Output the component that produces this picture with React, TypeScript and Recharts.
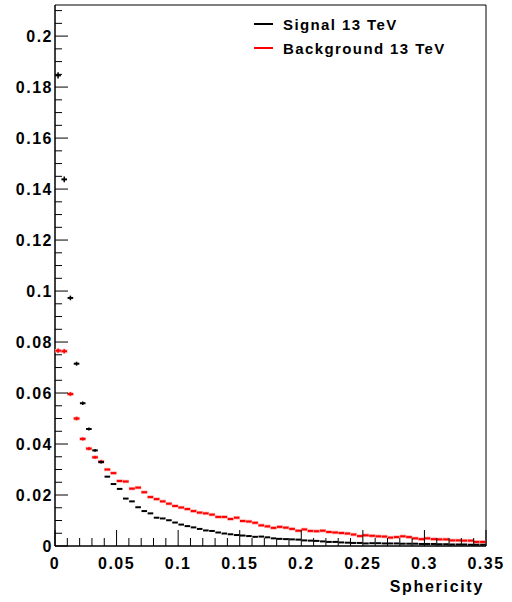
import React from "react";
import { ScatterChart, Scatter, XAxis, YAxis, ReferenceArea } from "recharts";

// bin width of the sphericity histogram (70 bins from 0 to 0.35)
const binWidth = 0.005;

const signal = [
  0.1846, 0.1438, 0.0973, 0.0715, 0.056, 0.0459, 0.0375, 0.0329, 0.0272, 0.0243,
  0.0224, 0.0186, 0.0175, 0.0152, 0.0137, 0.0128, 0.0111, 0.0108, 0.0101, 0.0092,
  0.0084, 0.0078, 0.0073, 0.0067, 0.0061, 0.0059, 0.0053, 0.0049, 0.0046, 0.0043,
  0.0041, 0.0039, 0.0036, 0.0037, 0.0034, 0.003, 0.0028, 0.0027, 0.0026, 0.0025,
  0.0022, 0.0021, 0.002, 0.0018, 0.0016, 0.0016, 0.0014, 0.0013, 0.0012, 0.0012,
  0.001, 0.0011, 0.0011, 0.001, 0.001, 0.001, 0.0009, 0.0009, 0.0009, 0.0008,
  0.0008, 0.0008, 0.0007, 0.0007, 0.0006, 0.0006, 0.0006, 0.0005, 0.0005, 0.0005,
];

const background = [
  0.0766, 0.0764, 0.0596, 0.05, 0.042, 0.0382, 0.0348, 0.0331, 0.03, 0.0286,
  0.0255, 0.0253, 0.0225, 0.0229, 0.0211, 0.0192, 0.0184, 0.0175, 0.0166, 0.0157,
  0.0151, 0.0145, 0.0137, 0.0131, 0.0128, 0.0123, 0.0114, 0.0114, 0.0106, 0.0111,
  0.0098, 0.0096, 0.0091, 0.0081, 0.0077, 0.0071, 0.0075, 0.0072, 0.0067, 0.006,
  0.0065, 0.0059, 0.0058, 0.006, 0.0055, 0.0053, 0.0051, 0.0049, 0.0045, 0.0039,
  0.0042, 0.004, 0.0038, 0.0037, 0.0033, 0.0035, 0.0038, 0.0035, 0.003, 0.0027,
  0.003, 0.0027, 0.0026, 0.0026, 0.0022, 0.0022, 0.0021, 0.0021, 0.0016, 0.0016,
];

const xMajor = [0, 0.05, 0.1, 0.15, 0.2, 0.25, 0.3, 0.35];
const yMajor = [0, 0.02, 0.04, 0.06, 0.08, 0.1, 0.12, 0.14, 0.16, 0.18, 0.2];
const xLabels = ["0", "0.05", "0.1", "0.15", "0.2", "0.25", "0.3", "0.35"];
const yLabels = ["0", "0.02", "0.04", "0.06", "0.08", "0.1", "0.12", "0.14", "0.16", "0.18", "0.2"];
const yMax = 0.2122;

const xTicks: number[] = [];
for (let i = 0; i <= 35; i++) xTicks.push(+(i * 0.01).toFixed(3));
const yTicks: number[] = [];
for (let i = 0; i <= 42; i++) yTicks.push(+(i * 0.005).toFixed(4));

const toPoints = (vals: number[]) => vals.map((v, i) => ({ x: (i + 0.5) * binWidth, y: v }));
const signalPts = toPoints(signal);
const backgroundPts = toPoints(background);

const FONT = "'Liberation Sans', Arial, sans-serif";

const XTick = (props: any) => {
  const { x, y, payload } = props;
  const idx = xMajor.findIndex((m) => Math.abs(m - payload.value) < 1e-6);
  const major = idx >= 0;
  return (
    <g>
      <line x1={x} x2={x} y1={y} y2={y - (major ? 16 : 8)} stroke="#000" strokeWidth={1} />
      {major && (
        <text x={x} y={y + 23} textAnchor="middle" fontFamily={FONT} fontWeight="bold" fontSize={16} letterSpacing={1.5} fill="#000">
          {xLabels[idx]}
        </text>
      )}
    </g>
  );
};

const YTick = (props: any) => {
  const { x, y, payload } = props;
  const idx = yMajor.findIndex((m) => Math.abs(m - payload.value) < 1e-6);
  const major = idx >= 0;
  return (
    <g>
      <line x1={x} x2={x + (major ? 13 : 7)} y1={y} y2={y} stroke="#000" strokeWidth={1} />
      {major && (
        <text x={x - 2} y={y + 6} textAnchor="end" fontFamily={FONT} fontWeight="bold" fontSize={16} letterSpacing={1.5} fill="#000">
          {yLabels[idx]}
        </text>
      )}
    </g>
  );
};

// horizontal bar = bin width, vertical bar = small stat. error (grows with the content)
const marker = (color: string, halo: string) => (props: any) => {
  const { cx, cy } = props;
  if (cx == null || cy == null) return <g />;
  // the x axis sits at y = 546, so the height above it is the bin content in pixels
  const h = Math.max(0, 546 - cy);
  const err = 3.2 * Math.sqrt(h / 470);
  return (
    <g>
      {halo && <line x1={cx - 3.2} x2={cx + 3.2} y1={cy} y2={cy} stroke={halo} strokeWidth={3.5} />}
      {halo && err > 1.3 && <line x1={cx} x2={cx} y1={cy - err - 0.5} y2={cy + err + 0.5} stroke={halo} strokeWidth={2.5} />}
      <line x1={cx - 2.8} x2={cx + 2.8} y1={cy} y2={cy} stroke={color} strokeWidth={2} />
      {err > 1.3 && <line x1={cx} x2={cx} y1={cy - err} y2={cy + err} stroke={color} strokeWidth={1.5} />}
    </g>
  );
};

export default function App() {
  return (
    <div style={{ position: "absolute", left: 0, top: 0, width: 512, height: 602, background: "#fff" }}>
      <ScatterChart width={512} height={602} margin={{ top: 5, right: 26, bottom: 0, left: 0 }}>
        <XAxis
          type="number"
          dataKey="x"
          domain={[0, 0.35]}
          ticks={xTicks}
          interval={0}
          height={56}
          tickSize={0}
          tickMargin={0}
          axisLine={{ stroke: "#000" }}
          tick={<XTick />}
          allowDataOverflow
        />
        <YAxis
          type="number"
          dataKey="y"
          domain={[0, yMax]}
          ticks={yTicks}
          interval={0}
          width={55}
          tickSize={0}
          tickMargin={0}
          axisLine={{ stroke: "#000" }}
          tick={<YTick />}
          allowDataOverflow
        />
        <ReferenceArea x1={0} x2={0.35} y1={0} y2={yMax} fill="none" stroke="#000" strokeWidth={1} ifOverflow="visible" />
        <Scatter name="Background 13 TeV" data={backgroundPts} shape={marker("#ff0000", "#ffb0b0")} isAnimationActive={false} />
        <Scatter name="Signal 13 TeV" data={signalPts} shape={marker("#000000", "")} isAnimationActive={false} />
        <text x={484} y={592} textAnchor="end" fontFamily={FONT} fontWeight="bold" fontSize={16} letterSpacing={1.7} fill="#000">
          Sphericity
        </text>
      </ScatterChart>
      <div style={{ position: "absolute", left: 254, top: 12, fontFamily: FONT, fontWeight: "bold", fontSize: 15, letterSpacing: 1.4, color: "#000" }}>
        {[
          { label: "Signal 13 TeV", color: "#000" },
          { label: "Background 13 TeV", color: "#ff0000" },
        ].map((item) => (
          <div key={item.label} style={{ display: "flex", alignItems: "center", height: 24 }}>
            <span style={{ display: "inline-block", width: 19, height: 2, background: item.color, marginRight: 10 }} />
            <span>{item.label}</span>
          </div>
        ))}
      </div>
    </div>
  );
}
